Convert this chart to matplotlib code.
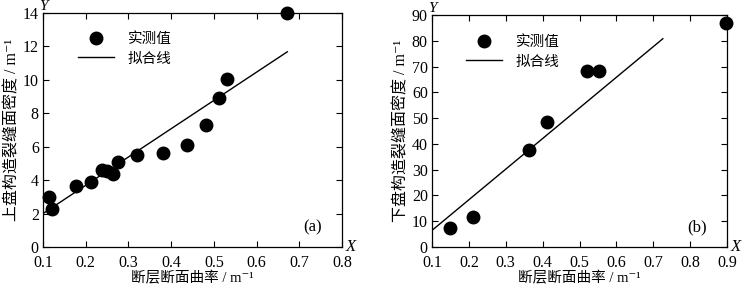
import matplotlib
matplotlib.use("Agg")
import matplotlib.pyplot as plt
import numpy as np

plt.rcParams['font.family'] = ['Liberation Serif', 'Noto Sans CJK SC', 'DejaVu Serif']

# Panel (a) data
xa = [0.114, 0.122, 0.178, 0.212, 0.237, 0.250, 0.263, 0.276, 0.320, 0.381, 0.437, 0.481, 0.511, 0.530, 0.672]
ya = [3.0, 2.25, 3.65, 3.89, 4.61, 4.55, 4.35, 5.09, 5.49, 5.65, 6.13, 7.29, 8.9, 10.04, 14.0]
fit_a_x = [0.1, 0.672]
fit_a_y = [2.0, 11.68]

# Panel (b) data
xb = [0.150, 0.210, 0.364, 0.412, 0.520, 0.554, 0.896]
yb = [7.35, 11.7, 37.6, 48.6, 68.2, 68.2, 87.0]
fit_b_x = [0.1, 0.726]
fit_b_y = [6.45, 80.8]

xlabel = "断层断面曲率 / m⁻¹"
ylabel_a = "上盘构造裂缝面密度 / m⁻¹"
ylabel_b = "下盘构造裂缝面密度 / m⁻¹"
leg_pts = "实测值"
leg_line = "拟合线"

fig = plt.figure(figsize=(7.45, 2.84), dpi=100)
axa = fig.add_axes([43/745, 1-247/284, (342-43)/745, (247-13)/284])
axb = fig.add_axes([432/745, 1-247/284, (727-432)/745, (247-15)/284])

def style(ax, xlim, xticks, ylim, yticks, tag, ylabel):
    ax.set_xlim(*xlim)
    ax.set_ylim(*ylim)
    ax.set_xticks(xticks)
    ax.set_yticks(yticks)
    ax.set_xticklabels([f"{t:g}" for t in xticks])
    ax.tick_params(direction='in', top=True, right=True, length=4, width=0.8,
                   labelsize=11.5)
    ax.tick_params(axis='x', pad=6)
    ax.tick_params(axis='y', pad=3)
    for s in ax.spines.values():
        s.set_linewidth(0.9)
    ax.set_xlabel(xlabel, fontsize=10.5, labelpad=0)
    ax.set_ylabel(ylabel, fontsize=11.5, labelpad=2)
    ax.text(0.90, 0.085, tag, transform=ax.transAxes, fontsize=12, ha='center', va='center')
    ax.text(0.0, 1.0, "Y", transform=ax.transAxes, fontsize=11, style='italic', ha='center', va='bottom')
    ax.text(1.012, 0.0, "X", transform=ax.transAxes, fontsize=12, style='italic', ha='left', va='center')

def legend(ax, anchor):
    ax.legend(loc='upper left', bbox_to_anchor=anchor, frameon=False, fontsize=10.5,
              handlelength=2.5, handletextpad=0.9, labelspacing=0.45,
              borderaxespad=0.0, borderpad=0.0)

for ax, x, y, fx, fy in [(axa, xa, ya, fit_a_x, fit_a_y), (axb, xb, yb, fit_b_x, fit_b_y)]:
    ax.plot(x, y, 'o', color='black', markersize=9, label=leg_pts, clip_on=False, zorder=3)
    ax.plot(fx, fy, '-', color='black', linewidth=1.0, label=leg_line)

legend(axa, (0.117, 0.919))
legend(axb, (0.115, 0.914))

style(axa, (0.1, 0.8), [0.1, 0.2, 0.3, 0.4, 0.5, 0.6, 0.7, 0.8], (0, 14), [0, 2, 4, 6, 8, 10, 12, 14], "(a)", ylabel_a)
style(axb, (0.1, 0.9), [0.1, 0.2, 0.3, 0.4, 0.5, 0.6, 0.7, 0.8, 0.9], (0, 90), [0, 10, 20, 30, 40, 50, 60, 70, 80, 90], "(b)", ylabel_b)

fig.savefig("out.png", dpi=100)
